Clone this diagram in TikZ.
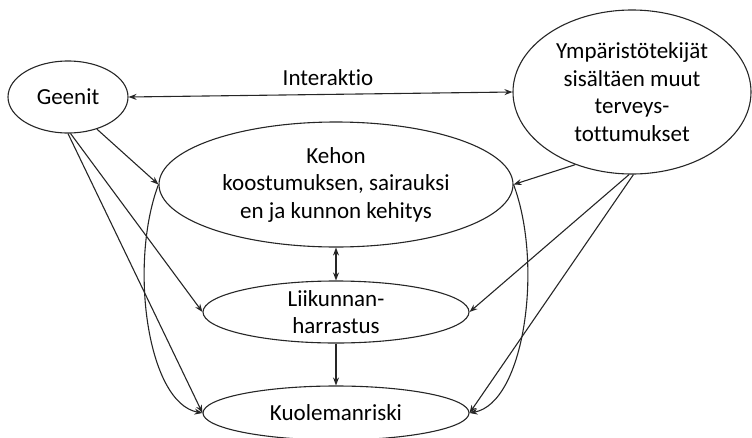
\documentclass[tikz,border=0pt]{standalone}
\usepackage{fontspec}
\setmainfont[Ligatures=NoCommon]{Carlito}
\usetikzlibrary{arrows.meta,shapes.geometric}
\begin{document}
\begin{tikzpicture}[x=1pt,y=-1pt,
  box/.style={ellipse,draw=black!85,line width=1.1pt,inner sep=0pt,align=center,
    font=\fontsize{23}{27.5}\selectfont},
  link/.style={draw=black!85,line width=1.1pt,-{Stealth[length=8pt,width=6pt]}},
  biglink/.style={link,{Stealth[length=8pt,width=6pt]}-{Stealth[length=8pt,width=6pt]}}]
\useasboundingbox (0,0) rectangle (752,437);
\node[box,minimum width=120pt,minimum height=72pt] (gee) at (68,97) {Geenit};
\node[box,minimum width=238pt,minimum height=164pt] (ymp) at (632,92)
  {Ympäristötekijät\\sisältäen muut\\terveys-\\tottumukset};
\node[box,minimum width=354pt,minimum height=125pt] (keh) at (336,184.5)
  {Kehon\\koostumuksen, sairauksi\\en ja kunnon kehitys};
\node[box,minimum width=266pt,minimum height=62pt] (lii) at (336,312)
  {Liikunnan-\\harrastus};
\node[box,minimum width=266pt,minimum height=54pt] (kuo) at (336,413)
  {Kuolemanriski};
\node[font=\fontsize{23}{27.5}\selectfont] (int) at (328,78) {Interaktio};
% interaction
\draw[biglink] (gee.east) -- (ymp.west);
% from Geenit
\draw[link] (gee.-48) -- (keh.west);
\draw[link] (gee.-86) -- (lii.west);
\draw[link] (gee.-90) -- (kuo.west);
% from environment
\draw[link] (ymp.-128) -- (keh.east);
\draw[link] (ymp.-92) -- (lii.east);
\draw[link] (ymp.-89) -- (kuo.east);
% vertical
\draw[biglink] (keh.south) -- (lii.north);
\draw[link] (lii.south) -- (kuo.north);
% curves
\draw[link] (keh.west) .. controls +(-30,80) and +(-55,-10) .. (kuo.west);
\draw[link] (keh.east) .. controls +(30,80) and +(55,-10) .. (kuo.east);
\end{tikzpicture}
\end{document}
